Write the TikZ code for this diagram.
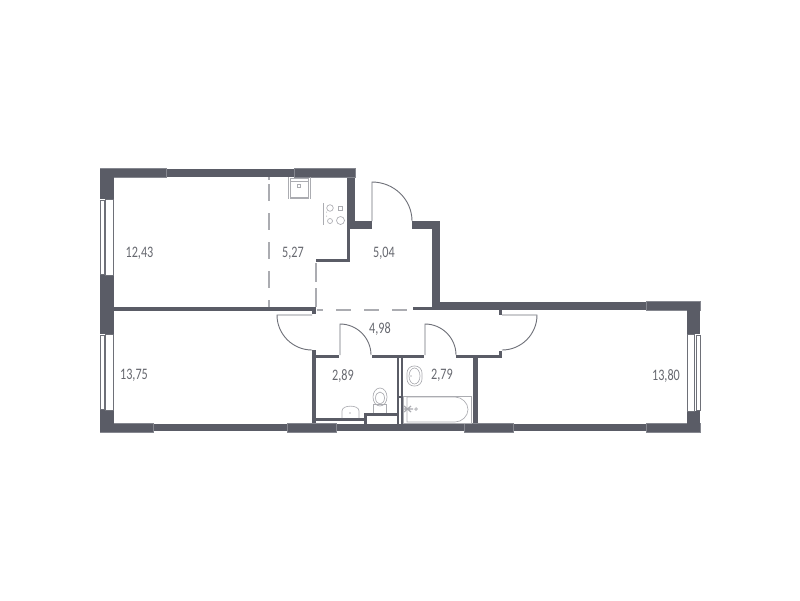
\documentclass[tikz,border=0pt]{standalone}
\usepackage{fontspec}
\setmainfont{Carlito}
\newfontfamily\lblfont[FakeStretch=0.76]{Carlito}
\definecolor{wallc}{HTML}{5A5C66}
\definecolor{edgec}{HTML}{85878F}
\definecolor{linec}{HTML}{6E7078}
\definecolor{fixc}{HTML}{ABACB1}
\definecolor{textc}{HTML}{66686F}
\tikzset{
  wall/.style={fill=wallc,draw=none},
  thick wall/.style={fill=wallc,draw=edgec,line width=.4pt},
  door/.style={draw=linec,line width=.9pt,fill=none},
  partition/.style={draw=fixc,line width=1.3pt},
  fixture/.style={draw=fixc,line width=.65pt,fill=none},
  winframe/.style={draw=linec,line width=.6pt,fill=white},
  lbl/.style={text=textc,inner sep=0pt,yshift=-.8pt,font=\lblfont\fontsize{16}{16}\selectfont}
}
\begin{document}
\begin{tikzpicture}[x=1pt,y=-1pt]
\useasboundingbox[fill=white] (0,0) rectangle (800,600);
% partitions
\draw[partition,dash pattern=on 16.5pt off 12.5pt,dash phase=22pt] (269,177) -- (269,307);
\draw[partition] (269,177) -- (269,180);
\draw[partition,dash pattern=on 19pt off 6pt] (316,263) -- (316,307);
\draw[partition,dash pattern=on 15pt off 13pt,dash phase=9pt] (317,310) -- (414,310);
% outer walls, thinner runs
\fill[wall] (100,169) rectangle (355,177);
\fill[wall] (347,177) rectangle (355,229);
\fill[wall] (347,221) rectangle (372,229);
\fill[wall] (347,229) rectangle (350,262);
\fill[wall] (316,259) rectangle (350,262);
\fill[wall] (412,221) rectangle (440,229);
\fill[wall] (432,221) rectangle (440,310);
\fill[wall] (432,302) rectangle (700,310);
\fill[wall] (413,307) rectangle (433,310);
\fill[wall] (100,424) rectangle (700,431);
% inner walls
\fill[wall] (114,307) rectangle (313,310.5);
\fill[wall] (312,307) rectangle (316,314);
\fill[wall] (312,350) rectangle (316,424);
\fill[wall] (316,355) rectangle (339,357.5);
\fill[wall] (372,355) rectangle (424,357.5);
\fill[wall] (456,355) rectangle (502,357.5);
\fill[wall] (498.5,351) rectangle (502,357.5);
\fill[wall] (498.5,310) rectangle (502,315);
\fill[wall] (396.5,357) rectangle (399,424);
\fill[wall] (401,357) rectangle (403.3,424);
\fill[wall] (399,396) rectangle (401,398);
\fill[wall] (473,357) rectangle (478,424);
\fill[wall] (316,418) rectangle (365,421);
\fill[wall] (364,413) rectangle (366.5,424);
\fill[wall] (364,413) rectangle (397,415.5);
% thicker wall sections
\draw[thick wall] (294,168.5) rectangle (355,177);
\draw[thick wall] (100,168.5) rectangle (166,177);
\draw[thick wall] (646,301.5) rectangle (700,310);
\draw[thick wall] (100,422.7) rectangle (153,431.7);
\draw[thick wall] (287,422.7) rectangle (336,431.7);
\draw[thick wall] (464,422.7) rectangle (513,431.7);
\draw[thick wall] (646,422.7) rectangle (700,431.7);
% piers
\fill[wall] (100,168.5) rectangle (114,199);
\fill[wall] (100,275) rectangle (114,334);
\fill[wall] (100,410) rectangle (114,431.7);
\fill[wall] (687,301.5) rectangle (700,334);
\fill[wall] (687,411) rectangle (700,431.7);
% windows
\draw[winframe] (100,200) rectangle (104,274);
\draw[winframe] (105.5,199) rectangle (113,275);
\draw[winframe] (100,335) rectangle (104,409);
\draw[winframe] (105.5,334) rectangle (113,410);
\draw[winframe] (696.5,335) rectangle (700,410);
\draw[winframe] (687.5,334) rectangle (694,411);
% doors
\draw[door] (372,221) -- (372,182) .. controls (394,182) and (412,199.5) .. (412,221);
\draw[door] (312,315) -- (277,315) .. controls (277,334.3) and (292.7,350) .. (312,350);
\draw[door] (340,355) -- (340,324) .. controls (357,324) and (371,338) .. (371,355);
\draw[door] (425,355) -- (425,324) .. controls (442,324) and (456,338) .. (456,355);
\draw[door] (502,315) -- (537,315) .. controls (537,334.3) and (521.3,350) .. (502,350);
% kitchen sink
\draw[fixture] (288,177) -- (288,199) (310,177) -- (310,199);
\draw[fixture] (290,178) rectangle (308,198);
\draw[fixture] (290,181) -- (308,181);
\draw[draw=fixc,line width=1.3pt] (290,198) -- (308,198);
\draw[fixture,line width=.5pt] (297.5,184.5) rectangle (300.5,187.5);
% stove
\draw[fixture] (323,203) -- (323,225);
\draw[fixture] (330,208) circle[radius=3.3];
\draw[fixture] (338,206) rectangle (342,210);
\draw[fixture] (330,221) circle[radius=2.5];
\draw[fixture] (340.5,220.5) circle[radius=4];
\fill[fixc] (326.5,212) circle[radius=.5] (326.5,216) circle[radius=.5];
% toilet
\draw[fixture] (380,397) ellipse[x radius=7,y radius=9];
\draw[fixture] (380,398) ellipse[x radius=4.5,y radius=6];
\draw[fixture] (373.5,413) -- (373.5,404) -- (386.5,404) -- (386.5,413);
% wc basin
\draw[fixture] (342,418) -- (342,411) .. controls (342,404.5) and (359,404.5) .. (359,411) -- (359,418);
\fill[linec] (350,413) circle[radius=.7];
% bath basin
\draw[fixture,rounded corners=7pt] (407,366) rectangle (422,386);
\draw[fixture] (414.5,376) ellipse[x radius=5.5,y radius=8];
\fill[linec] (411,376) circle[radius=.7];
% bath
\draw[fixture,line width=.5pt] (403,396) rectangle (471,423);
\draw[fixture] (407,397) -- (455,397) .. controls (462,397) and (468,403) .. (468,409.5) .. controls (468,416) and (462,422) .. (455,422) -- (407,422) -- cycle;
\draw[draw=fixc,line width=1.2pt] (404,406) -- (411,412) (404,412) -- (411,406) (404,409) -- (413,409);
\draw[fixture] (416,409) circle[radius=1.3];
% labels
\node[lbl] (r1) at (139.5,253) {12,43};
\node[lbl] (r2) at (293,253) {5,27};
\node[lbl] (r3) at (384,253) {5,04};
\node[lbl] (r4) at (380,328) {4,98};
\node[lbl] (r5) at (343,375) {2,89};
\node[lbl] (r6) at (442,375) {2,79};
\node[lbl] (r7) at (134,375) {13,75};
\node[lbl] (r8) at (666,375) {13,80};
\end{tikzpicture}
\end{document}
